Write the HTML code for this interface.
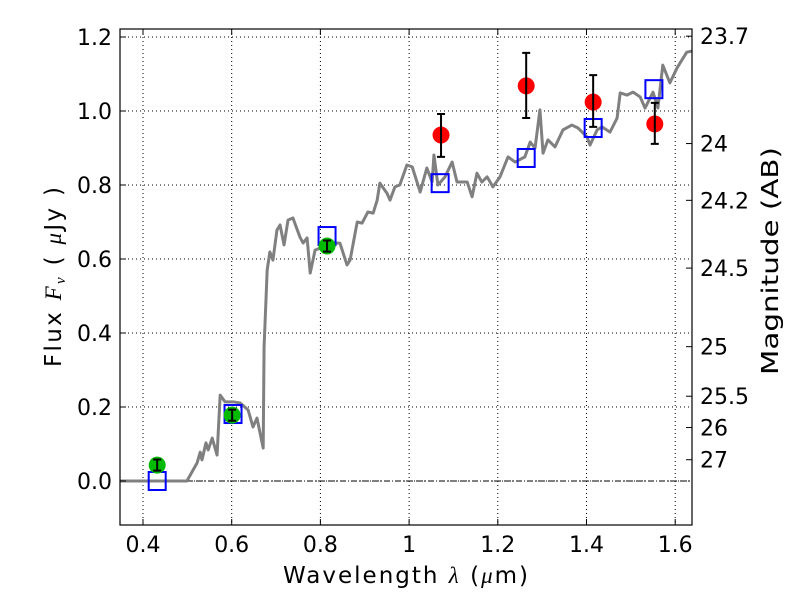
<!DOCTYPE html>
<html><head><meta charset="utf-8"><style>
body{margin:0;background:#fff}
svg text{font-family:"DejaVu Sans","Liberation Sans",sans-serif;fill:#000}
</style></head><body>
<svg id="c" width="800" height="600" xmlns="http://www.w3.org/2000/svg"></svg>
<script>
const specWl=[0.348,0.499,0.522,0.529,0.533,0.542,0.547,0.556,0.567,0.574,0.585,0.603,0.619,0.637,0.648,0.657,0.671,0.673,0.680,0.686,0.693,0.702,0.709,0.718,0.727,0.738,0.754,0.761,0.770,0.777,0.788,0.804,0.822,0.844,0.860,0.867,0.883,0.894,0.907,0.919,0.928,0.934,0.950,0.957,0.968,0.979,0.995,1.007,1.025,1.040,1.052,1.056,1.065,1.081,1.097,1.108,1.131,1.142,1.153,1.164,1.176,1.189,1.205,1.223,1.239,1.261,1.273,1.284,1.295,1.302,1.313,1.329,1.347,1.367,1.381,1.401,1.408,1.424,1.435,1.453,1.469,1.476,1.491,1.505,1.521,1.532,1.550,1.561,1.572,1.588,1.604,1.626,1.638];
const specFlux=[0,0,0.049,0.078,0.057,0.103,0.084,0.116,0.070,0.232,0.214,0.214,0.211,0.192,0.146,0.170,0.089,0.362,0.570,0.619,0.597,0.678,0.692,0.638,0.705,0.711,0.659,0.643,0.657,0.562,0.624,0.632,0.643,0.643,0.584,0.597,0.700,0.697,0.727,0.724,0.759,0.805,0.778,0.759,0.795,0.800,0.854,0.849,0.781,0.846,0.808,0.881,0.800,0.822,0.862,0.808,0.808,0.768,0.832,0.808,0.822,0.795,0.822,0.876,0.862,0.876,0.916,0.900,1.003,0.886,0.922,0.903,0.949,0.962,0.954,0.930,0.908,0.949,0.957,0.943,0.981,1.049,1.043,1.051,1.038,1.008,1.051,1.008,1.124,1.076,1.116,1.159,1.162];
const greenWl=[0.432,0.601,0.815];
const greenFlux=[0.043,0.178,0.635];
const greenErr=[0.015,0.015,0.015];
const redWl=[1.072,1.264,1.415,1.554];
const redFlux=[0.935,1.068,1.024,0.965];
const redErrLo=[0.059,0.087,0.067,0.054];
const redErrHi=[0.057,0.089,0.073,0.057];
const modelWl=[0.432,0.603,0.815,1.070,1.264,1.415,1.552];
const modelFlux=[0.0,0.181,0.662,0.805,0.873,0.954,1.059];
const xTicks=[0.4,0.6,0.8,1.0,1.2,1.4,1.6];
const xTickLabels=["0.4","0.6","0.8","1","1.2","1.4","1.6"];
const yTicks=[0,0.2,0.4,0.6,0.8,1.0,1.2];
const yTickLabels=["0.0","0.2","0.4","0.6","0.8","1.0","1.2"];
const magTicks=[23.7,24,24.2,24.5,25,25.5,26,27];
const magLabels=["23.7","24","24.2","24.5","25","25.5","26","27"];

const L=120,R=692,T=29,B=525;
const x=v=>143+(v-0.4)*443.5;
const y=v=>481-v*370;
const svg=document.getElementById('c');
const NS='http://www.w3.org/2000/svg';
function mk(tag,at,parent){const e=document.createElementNS(NS,tag);for(const k in at)e.setAttribute(k,at[k]);(parent||svg).appendChild(e);return e;}

xTicks.forEach((t,i)=>{
  const g=mk('line',{x1:x(t),x2:x(t),y1:T,y2:B,stroke:'#000','stroke-width':1,'stroke-dasharray':'1,3'});
  
  
});
yTicks.forEach(t=>{
  const g=mk('line',{x1:L,x2:R,y1:y(t),y2:y(t),stroke:'#000','stroke-width':1,'stroke-dasharray':'1,3'});
  
  
});
const z=mk('line',{x1:L,x2:R,y1:y(0),y2:y(0),stroke:'#000','stroke-width':1,'stroke-dasharray':'6,2,1,2'});



const defs=mk('defs',{});
const cp=mk('clipPath',{id:'clip'},defs);
mk('rect',{x:L,y:T,width:R-L,height:B-T},cp);

const sp=mk('polyline',{points:specWl.map((w,i)=>x(w)+','+y(specFlux[i])).join(' '),fill:'none',stroke:'#808080','stroke-width':3,'stroke-linejoin':'round','clip-path':'url(#clip)'});



modelWl.forEach((w,i)=>{
  const s=mk('rect',{x:x(w)-8.5,y:y(modelFlux[i])-9,width:17,height:18,fill:'none',stroke:'#0000ff','stroke-width':2});
  
  
});
greenWl.forEach((w,i)=>{
  const c=mk('circle',{cx:x(w),cy:y(greenFlux[i]),r:8.5,fill:'#00bb00',stroke:'none'});
  
  
  const e=mk('path',{d:`M${x(w)},${y(greenFlux[i]-greenErr[i])}V${y(greenFlux[i]+greenErr[i])}M${x(w)-4},${y(greenFlux[i]-greenErr[i])}h8M${x(w)-4},${y(greenFlux[i]+greenErr[i])}h8`,stroke:'#000','stroke-width':2,fill:'none'});
  
  
});
redWl.forEach((w,i)=>{
  const c=mk('circle',{cx:x(w),cy:y(redFlux[i]),r:8.5,fill:'#ff0000',stroke:'none'});
  
  
  const lo=y(redFlux[i]-redErrLo[i]),hi=y(redFlux[i]+redErrHi[i]);
  const e=mk('path',{d:`M${x(w)},${lo}V${hi}M${x(w)-4},${lo}h8M${x(w)-4},${hi}h8`,stroke:'#000','stroke-width':2,fill:'none'});
  
  
});

const fr=mk('rect',{x:L,y:T,width:R-L,height:B-T,fill:'none',stroke:'#000','stroke-width':1.2});



xTicks.forEach((t,i)=>{
  mk('path',{d:`M${x(t)},${B}v-6M${x(t)},${T}v6`,stroke:'#000'});
  const tx=mk('text',{x:x(t),y:B+27,'text-anchor':'middle','font-size':22});
  tx.textContent=xTickLabels[i];
  
  
});
yTicks.forEach((t,i)=>{
  mk('path',{d:`M${L},${y(t)}h6`,stroke:'#000'});
  const tx=mk('text',{x:L-8,y:y(t)+8,'text-anchor':'end','font-size':22});
  tx.textContent=yTickLabels[i];
  
  
});
magTicks.forEach((m,i)=>{
  const f=Math.pow(10,(23.9-m)/2.5);
  mk('path',{d:`M${R},${y(f)}h-6`,stroke:'#000'});
  const tx=mk('text',{x:R+8,y:y(f)+8,'text-anchor':'start','font-size':22});
  tx.textContent=magLabels[i];
  
  
});
</script>
<svg width="800" height="600" style="position:absolute;left:0;top:0">
<text x="283" y="583" textLength="245" lengthAdjust="spacing" font-size="23">Wavelength  <tspan font-style="italic" font-family="Liberation Serif">λ</tspan> (<tspan font-style="italic" font-family="Liberation Serif">μ</tspan>m)</text>
<text transform="translate(61,367) rotate(-90)" textLength="180" lengthAdjust="spacing" font-size="23">Flux  <tspan font-style="italic" font-family="Liberation Serif">F</tspan><tspan font-style="italic" font-family="Liberation Serif" font-size="15" dy="4">ν</tspan><tspan dy="-4">  ( </tspan><tspan font-style="italic" font-family="Liberation Serif">μ</tspan>Jy )</text>
<text transform="translate(778,375) rotate(-90)" textLength="228" lengthAdjust="spacingAndGlyphs" font-size="23">Magnitude (AB)</text>
</svg>
</body></html>
